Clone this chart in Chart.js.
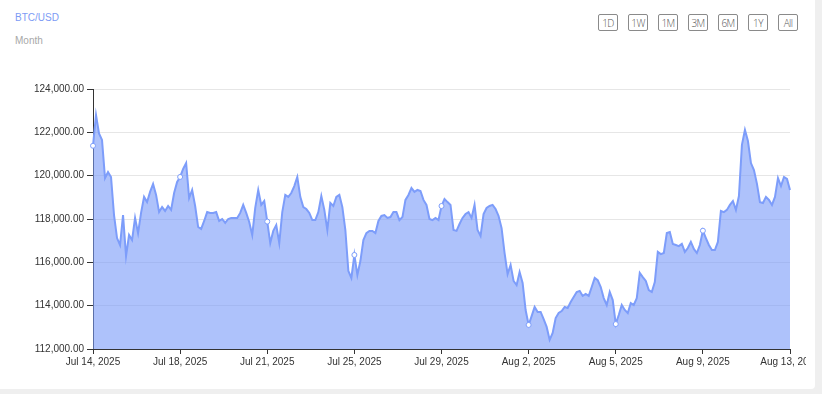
<!DOCTYPE html>
<html>
<head>
<meta charset="utf-8">
<script src="https://cdn.jsdelivr.net/npm/chart.js@4"></script>
<style>
  body { margin: 0; background: #efefef; font-family: "Liberation Sans", Arial, sans-serif; }
  .card { position: absolute; left: 0; top: 0; width: 815px; height: 389px; background: #fff; border-bottom-right-radius: 4px; overflow: hidden; }
  .pair { position: absolute; left: 15px; top: 12px; font-size: 10px; color: #7d9bf5; }
  .period { position: absolute; left: 15px; top: 35px; font-size: 10px; color: #a8a8a8; }
  .ranges { position: absolute; left: 598px; top: 14px; display: flex; gap: 10px; }
  .ranges span { box-sizing: border-box; width: 20px; height: 17px; border: 1px solid #8a8a8a; border-radius: 2px; color: #555; font: 300 10px "Open Sans", sans-serif; letter-spacing: -0.6px; display: flex; align-items: center; justify-content: center; }
  #chart { position: absolute; left: 0; top: 80px; }
</style>
</head>
<body>
<div class="card">
  <div class="pair">BTC/USD</div>
  <div class="period">Month</div>
  <div class="ranges"><span>1D</span><span>1W</span><span>1M</span><span>3M</span><span>6M</span><span>1Y</span><span>All</span></div>
  <canvas id="chart" width="806" height="300"></canvas>
</div>
<script>
// x tick labels, one every 29 points (3.75 days)
const tickLabels = [
  "Jul 14, 2025", "Jul 18, 2025", "Jul 21, 2025", "Jul 25, 2025", "Jul 29, 2025",
  "Aug 2, 2025", "Aug 5, 2025", "Aug 9, 2025", "Aug 13, 2025"
];
const tickEvery = 29;

// BTC/USD price, Jul 14 -> Aug 13 2025
const prices = [
  121380, 122800, 121950, 121650, 119890, 120170, 119940, 118180, 117120, 116800,
  118180, 116290, 117260, 117030, 118050, 117350, 118280, 119020, 118780, 119250,
  119620, 119110, 118320, 118550, 118370, 118600, 118420, 119200, 119710, 119940,
  120310, 120580, 118970, 119340, 118600, 117630, 117540, 117910, 118320, 118280,
  118280, 118320, 117910, 118000, 117820, 118000, 118050, 118050, 118050, 118280,
  118650, 118280, 117860, 117260, 118510, 119340, 118650, 118830, 117880, 116890,
  117450, 117720, 116890, 118320, 119110, 119020, 119200, 119520, 119940, 119020,
  118550, 118460, 118280, 117950, 117950, 118320, 119060, 118420, 117490, 118740,
  118600, 119020, 119110, 118550, 117490, 115600, 115280, 116340, 115420, 116060,
  117030, 117350, 117450, 117450, 117350, 117910, 118140, 118180, 118050, 118090,
  118320, 118320, 117950, 118090, 118880, 119110, 119430, 119250, 119340, 119290,
  118880, 118650, 118000, 117950, 118050, 117950, 118600, 118920, 118780, 118650,
  117490, 117450, 117770, 118050, 118230, 118320, 118050, 118650, 117490, 117220,
  118230, 118510, 118600, 118650, 118460, 118140, 117580, 116430, 115460, 115880,
  115140, 114950, 115550, 115050, 113800, 113110, 113520, 113940, 113710, 113710,
  113380, 113020, 112420, 112740, 113430, 113660, 113750, 113940, 113890, 114170,
  114400, 114630, 114680, 114450, 114540, 114450, 114860, 115280, 115180, 114860,
  114350, 114030, 114630, 114260, 113150, 113570, 114030, 113800, 113660, 114120,
  114030, 114350, 115510, 115320, 115140, 114720, 114630, 115090, 116480, 116380,
  116430, 117350, 117400, 116850, 116800, 116750, 116850, 116480, 116660, 116940,
  116620, 116430, 116800, 117460, 117120, 116800, 116570, 116570, 116940, 118370,
  118320, 118420, 118650, 118830, 118420, 119060, 121420, 122110, 121600, 120580,
  120260, 119620, 118780, 118740, 119020, 118880, 118650, 119020, 119890, 119520,
  119940, 119850, 119340
];

const lineColor = "rgb(125, 157, 250)";
const axisColor = "#333";
const tickFont = { family: "Liberation Sans, Arial, sans-serif", size: 10 };

new Chart(document.getElementById("chart"), {
  type: "line",
  data: {
    datasets: [
      {
        label: "BTC/USD",
        data: prices.map((v, i) => ({ x: i, y: v })),
        borderColor: lineColor,
        backgroundColor: "rgba(120, 153, 248, 0.6)",
        borderWidth: 2,
        fill: "start",
        tension: 0,
        clip: 4,
        pointRadius: (ctx) =>
          ctx.dataIndex % tickEvery === 0 && ctx.dataIndex < prices.length - 1 ? 2.5 : 0,
        pointBackgroundColor: "#fff",
        pointBorderColor: lineColor,
        pointBorderWidth: 1,
      },
    ],
  },
  options: {
    responsive: false,
    animation: false,
    devicePixelRatio: 1,
    layout: { padding: { top: 9, right: 16, left: 0, bottom: 0 } },
    plugins: { legend: { display: false }, tooltip: { enabled: false } },
    scales: {
      x: {
        type: "linear",
        min: 0,
        max: prices.length - 1,
        afterFit: (scale) => {
          scale.height = 31;
          scale.paddingLeft = 0;
          scale.paddingRight = 0;
        },
        border: { color: axisColor, width: 1 },
        grid: { drawOnChartArea: false, tickLength: 5, color: axisColor },
        ticks: {
          stepSize: tickEvery,
          autoSkip: false,
          maxRotation: 0,
          padding: 2,
          color: axisColor,
          font: tickFont,
          callback: (v) => tickLabels[v / tickEvery],
        },
      },
      y: {
        min: 112000,
        max: 124000,
        afterFit: (scale) => {
          scale.width = 93;
          scale.paddingTop = 0;
          scale.paddingBottom = 0;
        },
        border: { color: axisColor, width: 1 },
        grid: { color: "#e6e6e6", tickLength: 6, tickColor: axisColor },
        ticks: {
          stepSize: 2000,
          padding: 3,
          color: axisColor,
          font: tickFont,
          callback: (v) =>
            v.toLocaleString("en-US", { minimumFractionDigits: 2, maximumFractionDigits: 2 }),
        },
      },
    },
  },
});
</script>
</body>
</html>
